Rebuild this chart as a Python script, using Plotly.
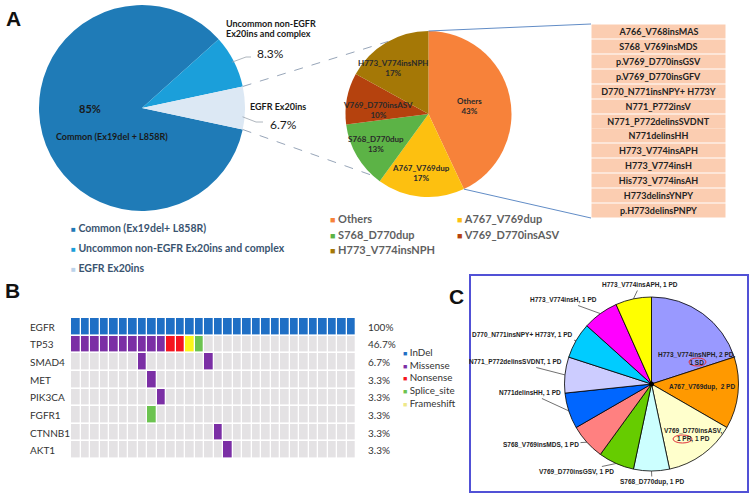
import math
import plotly.graph_objects as go

W, H = 755, 499
def X(px): return px / W
def Y(py): return 1 - py / H

FONT = "Lato"
ARIAL = "Liberation Sans"

# ---------------- Panel A : left pie ----------------
egfr_groups = ["Common (Ex19del+ L858R)", "Uncommon non-EGFR Ex20ins and complex", "EGFR Ex20ins"]
egfr_pct = [85, 8.3, 6.7]
egfr_colors = ["#1f7bb7", "#1b9fda", "#dce8f4"]

# ---------------- Panel A : middle pie ----------------
ex20_types = ["Others", "A767_V769dup", "S768_D770dup", "V769_D770insASV", "H773_V774insNPH"]
ex20_pct = [43, 17, 13, 10, 17]
ex20_colors = ["#f7823a", "#fdc010", "#5cb346", "#b5420e", "#a57806"]

# ---------------- Panel A : list of "Others" ----------------
others_variants = ["A766_V768insMAS", "S768_V769insMDS", "p.V769_D770insGSV", "p.V769_D770insGFV",
                   "D770_N771insNPY+ H773Y", "N771_P772insV", "N771_P772delinsSVDNT", "N771delinsHH",
                   "H773_V774insAPH", "H773_V774insH", "His773_V774insAH", "H773delinsYNPY",
                   "p.H773delinsPNPY"]

# ---------------- Panel B : oncoprint ----------------
genes = ["EGFR", "TP53", "SMAD4", "MET", "PIK3CA", "FGFR1", "CTNNB1", "AKT1"]
# one character per patient: . none, I InDel, M Missense, N Nonsense, S Splice_site, F Frameshift
egfr_row   = "IIIIIIIIIIIIIIIIIIIIIIIIIIIIII"
tp53_row   = "MMMMMMMMMMNNFS................"
smad4_row  = ".......M......M..............."
met_row    = "........M....................."
pik3ca_row = ".........M...................."
fgfr1_row  = "........S....................."
ctnnb1_row = "...............M.............."
akt1_row   = "................M............."
alteration_rows = [egfr_row, tp53_row, smad4_row, met_row, pik3ca_row, fgfr1_row, ctnnb1_row, akt1_row]
alt_codes = [".", "I", "M", "N", "S", "F"]
alt_names = ["None", "InDel", "Missense", "Nonsense", "Splice_site", "Frameshift"]
alt_colors = ["#e4e2e4", "#1f6fc5", "#7b2fa5", "#f5141e", "#6cc350", "#fbf51a"]

# ---------------- Panel C : responses ----------------
c_variants = ["H773_V774insNPH", "A767_V769dup", "V769_D770insASV", "S768_D770dup", "V769_D770insGSV",
              "S768_V769insMDS", "N771delinsHH", "N771_P772delinsSVDNT", "D770_N771insNPY+ H773Y",
              "H773_V774insH", "H773_V774insAPH"]
c_counts = [3, 2, 2, 1, 1, 1, 1, 1, 1, 1, 1]
c_response = ["2 PD, 1 SD", "2 PD", "1 PR, 1 PD", "1 PD", "1 PD", "1 PD", "1 PD", "1 PD", "1 PD", "1 PD", "1 PD"]
c_colors = ["#9999ff", "#ff9900", "#ffffcc", "#ccffff", "#66cc00", "#ff8080", "#0066ff",
            "#ccccff", "#00ccff", "#ff00ff", "#ffff00"]

# ---------------- geometry ----------------
A1 = dict(cx=142, cy=108, r=103)
A2 = dict(cx=428.5, cy=114, r=83)
C1 = dict(cx=651.5, cy=384, r=87)

def dom(g):
    return dict(x=[X(g["cx"] - g["r"]), X(g["cx"] + g["r"])],
                y=[Y(g["cy"] + g["r"]), Y(g["cy"] - g["r"])])

def edge(g, ang, k=1.0):
    a = math.radians(ang)
    return g["cx"] + k * g["r"] * math.sin(a), g["cy"] - k * g["r"] * math.cos(a)

def bounds(vals, rot):
    tot = sum(vals)
    out, acc = [], rot
    for v in vals:
        a0 = acc
        acc += v / tot * 360
        out.append((a0, acc))
    return out

# left pie: Ex20ins slice centred at 3 o'clock
a1_rot = 90 - (egfr_pct[2] / 2) / sum(egfr_pct) * 360 - (egfr_pct[0] + egfr_pct[1]) / sum(egfr_pct) * 360 + 360
a1_b = bounds(egfr_pct, a1_rot)
a2_b = bounds(ex20_pct, 0)
c_b = bounds(c_counts, 0)

fig = go.Figure()

fig.add_trace(go.Pie(labels=egfr_groups, values=egfr_pct, sort=False, direction="clockwise",
                     rotation=a1_rot, marker=dict(colors=egfr_colors, line=dict(width=0)),
                     textinfo="none", showlegend=False, domain=dom(A1), hoverinfo="label+percent"))

fig.add_trace(go.Pie(labels=ex20_types, values=ex20_pct, sort=False, direction="clockwise",
                     rotation=0, marker=dict(colors=ex20_colors, line=dict(width=0)),
                     textinfo="none", showlegend=False, domain=dom(A2), hoverinfo="label+percent"))

fig.add_trace(go.Pie(labels=c_variants, values=c_counts, sort=False, direction="clockwise",
                     rotation=0, marker=dict(colors=c_colors, line=dict(width=0.8, color="#000000")),
                     textinfo="none", showlegend=False, domain=dom(C1)))

# oncoprint heatmap
z = [[alt_codes.index(ch) for ch in row] for row in alteration_rows]
n_pat = len(egfr_row)
nc = len(alt_colors)
cscale = []
for i, c in enumerate(alt_colors):
    cscale.append([i / nc, c])
    cscale.append([(i + 1) / nc, c])
fig.add_trace(go.Heatmap(z=z, x=list(range(1, n_pat + 1)), y=genes, colorscale=cscale,
                         zmin=-0.5, zmax=nc - 0.5, showscale=False, xgap=1.3, ygap=1.6,
                         xaxis="x", yaxis="y", hoverinfo="skip"))

ann = []
shapes = []

def text(x, y, t, size=10, color="#222", bold=False, family=FONT, xanchor="center", yanchor="middle", **kw):
    ann.append(dict(x=X(x), y=Y(y), xref="paper", yref="paper", text=t, showarrow=False,
                    xanchor=xanchor, yanchor=yanchor,
                    font=dict(family=family, size=size, color=color, weight="bold" if bold else "normal"), **kw))

# panel letters
text(13, 18, "A", size=21, color="#111", bold=True, family="Liberation Sans")
text(12, 290, "B", size=21, color="#111", bold=True, family="Liberation Sans")
text(457, 296, "C", size=21, color="#111", bold=True, family="Liberation Sans")

# left pie labels
text(90, 108, f"{egfr_pct[0]}%", size=11, color="#1a1a1a", bold=True)
text(112, 137, "Common (Ex19del + L858R)", size=9, color="#1a1a1a", bold=True)
text(224, 23, "Uncommon non-EGFR", size=9, color="#1a1a1a", bold=True, xanchor="left")
text(224, 34, "Ex20ins and complex", size=9, color="#1a1a1a", bold=True, xanchor="left")
text(270, 53, f"{egfr_pct[1]}%", size=12, color="#1a1a1a")
text(248, 106, "EGFR Ex20ins", size=9, color="#1a1a1a", bold=True, xanchor="left")
text(283, 124, f"{egfr_pct[2]}%", size=12, color="#1a1a1a")

# middle pie slice labels
mid_pos = [(470, 106), (421, 173), (376, 144), (378, 110), (393, 68)]
for lab, pct, (mx, my) in zip(ex20_types, ex20_pct, mid_pos):
    text(mx, my, f"{lab}<br>{pct}%", size=8, color="#2a2a2a", bold=True)

# leader lines of left pie
ux, uy = edge(A1, (a1_b[1][0] + a1_b[1][1]) / 2, 0.98)
shapes.append(dict(type="path", xref="paper", yref="paper",
                   path=f"M{X(ux)},{Y(uy)} L{X(246)},{Y(57)} L{X(251)},{Y(57)}",
                   line=dict(color="#9aa3ad", width=0.8)))
ex, ey = edge(A1, 95, 0.98)
shapes.append(dict(type="path", xref="paper", yref="paper",
                   path=f"M{X(ex)},{Y(ey)} L{X(256)},{Y(122)} L{X(263)},{Y(122)}",
                   line=dict(color="#9aa3ad", width=0.8)))

# dashed connectors between left and middle pie
s1 = edge(A1, a1_b[2][0]); s2 = edge(A1, a1_b[2][1])
e1 = edge(A2, 331); e2 = edge(A2, 222)
for (sx, sy), (tx, ty) in [(s1, e1), (s2, e2)]:
    shapes.append(dict(type="line", xref="paper", yref="paper", x0=X(sx), y0=Y(sy), x1=X(tx), y1=Y(ty),
                       line=dict(color="#8b9bb0", width=0.9, dash="dash")))

# left legend
for i, (lab, col) in enumerate(zip(egfr_groups, egfr_colors)):
    sq = "#bcd3ea" if i == 2 else col
    text(69, 228 + i * 20, f"<span style='color:{sq};font-size:8px'>■</span> {lab}", size=10.5,
         color="#3a5470", bold=True, xanchor="left")

# middle legend (two columns)
for i, (lab, col) in enumerate(zip(ex20_types, ex20_colors)):
    cx = 328 if i % 2 == 0 else 455
    cy = 218 + (i // 2) * 16
    text(cx, cy, f"<span style='color:{col};font-size:9px'>■</span> {lab}", size=11,
         color="#5f5f5f", bold=True, xanchor="left")

# list of other variants
n_o = len(others_variants)
top, bottom = 24, 218
pitch = (bottom - top) / n_o
for i, v in enumerate(others_variants):
    yc = top + pitch * (i + 0.5)
    text(658.5, yc, v, size=9, color="#222", bold=True, width=133, height=round(pitch) - 2,
         bgcolor="#fbcdb1", borderpad=0)

# blue connectors to the list
bx, by = edge(A2, a2_b[0][1])
tx, ty = edge(A2, 0)
for (sx, sy), (ex_, ey_) in [((tx, ty), (591, top)), ((bx, by), (591, bottom))]:
    shapes.append(dict(type="line", xref="paper", yref="paper", x0=X(sx), y0=Y(sy), x1=X(ex_), y1=Y(ey_),
                       line=dict(color="#4f7fc0", width=0.9)))

# ---------------- Panel B axes / labels ----------------
for g, row in zip(genes, alteration_rows):
    ann.append(dict(x=X(28), y=g, xref="paper", yref="y", text=g, showarrow=False, xanchor="left",
                    font=dict(family=FONT, size=10, color="#333")))
    pct = sum(ch != "." for ch in row) / len(row) * 100
    s = f"{pct:.1f}".rstrip("0").rstrip(".")
    ann.append(dict(x=X(366), y=g, xref="paper", yref="y", text=f"{s}%", showarrow=False, xanchor="left",
                    font=dict(family=FONT, size=10, color="#333")))

legend_lines = []
for nm, col in zip(alt_names[1:], alt_colors[1:]):
    sq = "#eee88a" if nm == "Frameshift" else col
    legend_lines.append(f"<span style='color:{sq};font-size:7px'>■</span> {nm}")
text(401, 344, "<br>".join(legend_lines), size=9.8, color="#333", xanchor="left", yanchor="top", align="left")

# ---------------- Panel C labels ----------------
shapes.append(dict(type="rect", xref="paper", yref="paper", x0=X(470), y0=Y(492), x1=X(748), y1=Y(275),
                   line=dict(color="#5151d6", width=2)))
shapes.append(dict(type="circle", xref="paper", yref="paper", x0=X(C1["cx"] - 2.5), x1=X(C1["cx"] + 2.5),
                   y0=Y(C1["cy"] + 2.5), y1=Y(C1["cy"] - 2.5), fillcolor="#000", line=dict(width=0)))

outside_pos = {
    "H773_V774insAPH": (640, 285),
    "H773_V774insH": (563, 300),
    "D770_N771insNPY+ H773Y": (522, 335),
    "N771_P772delinsSVDNT": (515, 362),
    "N771delinsHH": (530, 393),
    "S768_V769insMDS": (541, 445),
    "V769_D770insGSV": (576, 472),
    "S768_D770dup": (652, 482),
}
for (v, resp, (a0, a1)) in zip(c_variants, c_response, c_b):
    if v not in outside_pos:
        continue
    lx, ly = outside_pos[v]
    px_, py_ = edge(C1, (a0 + a1) / 2)
    ann.append(dict(x=X(px_), y=Y(py_), xref="paper", yref="paper", text=f"{v}, {resp}",
                    showarrow=True, arrowhead=0, arrowwidth=0.7, arrowcolor="#333",
                    ax=lx - px_, ay=ly - py_, standoff=0,
                    font=dict(family=ARIAL, size=6.5, color="#222", weight="bold")))

# inside labels of panel C (two lines each, single text block)
text(697, 358, f"{c_variants[0]}, 2 PD,<br>1 SD", size=6.5, color="#222", bold=True, family=ARIAL)
text(702, 387, f"{c_variants[1]},  {c_response[1]}", size=6.5, color="#222", bold=True, family=ARIAL)
text(693, 435, f"{c_variants[2]},<br>{c_response[2]}", size=6.5, color="#222", bold=True, family=ARIAL)
for (x0, x1, y0, y1) in [(689, 706, 358, 366), (673, 692, 435, 443)]:
    shapes.append(dict(type="circle", xref="paper", yref="paper", x0=X(x0), x1=X(x1), y0=Y(y1), y1=Y(y0),
                       line=dict(color="#e0303a", width=1)))

fig.update_layout(
    width=W, height=H, margin=dict(l=0, r=0, t=0, b=0),
    paper_bgcolor="white", plot_bgcolor="white",
    xaxis=dict(domain=[X(71), X(356)], range=[0.5, n_pat + 0.5], visible=False, fixedrange=True),
    yaxis=dict(domain=[Y(459), Y(318)], autorange="reversed", visible=False, fixedrange=True,
               type="category", categoryorder="array", categoryarray=genes),
    annotations=ann, shapes=shapes, showlegend=False,
)

fig.write_html("out.html", config={"displayModeBar": False},
               post_script="document.body.style.margin='0px';")
